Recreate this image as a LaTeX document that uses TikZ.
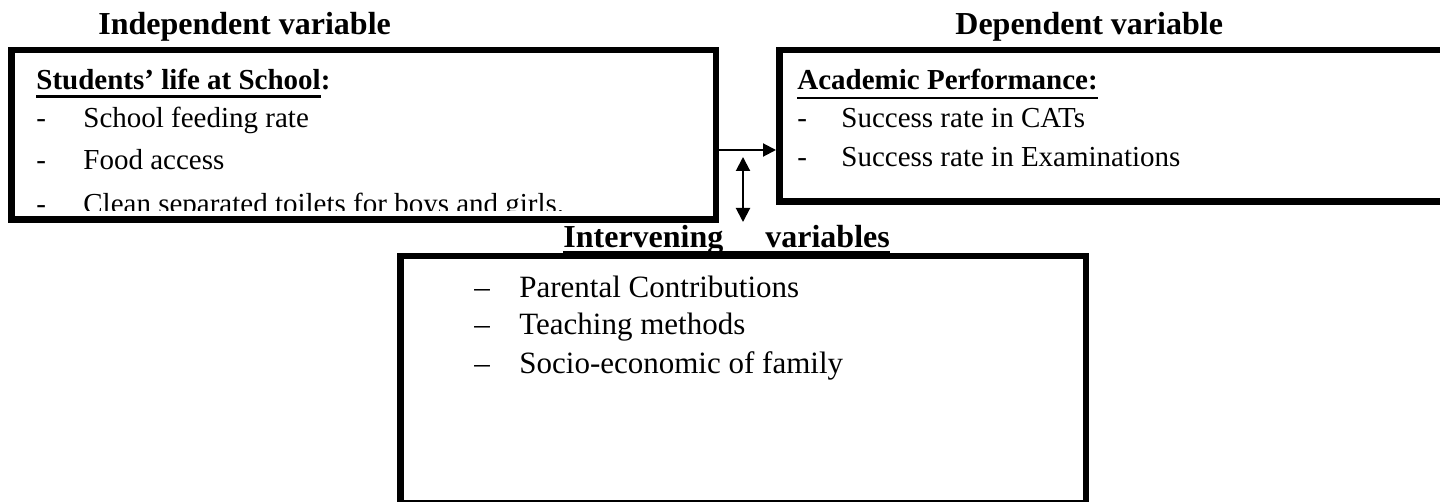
\documentclass[tikz,border=0pt]{standalone}
\usepackage{fontspec}
\setmainfont{Liberation Serif}
\usetikzlibrary{arrows.meta, positioning, calc}

% underline with a set depth
\newcommand{\undl}[2][3.8pt]{\setbox0\hbox{#2}\rlap{\rule[-#1]{\wd0}{1.1pt}}\box0}

\tikzset{
    varbox/.style={draw=black, line width=3.25pt, inner sep=0pt},
    head/.style={anchor=base west, inner sep=0pt, font=\bfseries\fontsize{16}{19}\selectfont},
    boxtitle/.style={anchor=base west, inner sep=0pt, font=\bfseries\fontsize{14.5}{17}\selectfont},
    item/.style={anchor=base west, inner sep=0pt, font=\fontsize{14.5}{17}\selectfont},
    bigitem/.style={anchor=base west, inner sep=0pt, font=\fontsize{15.5}{18}\selectfont},
    link/.style={line width=1pt, -{Triangle[length=6.5pt, width=6.5pt]}},
    twoway/.style={line width=1pt, {Triangle[length=7pt, width=7pt]}-{Triangle[length=7pt, width=7pt]}}
}

\begin{document}
\begin{tikzpicture}[x=0.5pt, y=-0.5pt]
    \useasboundingbox (0,0) rectangle (1440,502);

    % headings
    \node[head] (indeptitle) at (98,35) {Independent variable};
    \node[head] (deptitle) at (955,35) {Dependent variable};
    \node[head] (intervtitle) at (563,248) {\undl[2.6pt]{Intervening\hspace{21pt}variables}};

    % boxes
    \node[varbox, minimum width=352.25pt, minimum height=84.75pt] (indep) at (363.5,135) {};
    \node[varbox, minimum width=333.75pt, minimum height=75.75pt] (dep) at (1113,126) {};
    \node[varbox, minimum width=342.75pt, minimum height=123.25pt] (interv) at (743,379.5) {};

    % independent variable
    \node[boxtitle] (school) at (36,90) {\undl{Students’ life at School}:};
    \node[item] (sfeed) at (36,128) {\makebox[23.5pt][l]{-}School feeding rate};
    \node[item] (faccess) at (36,170) {\makebox[23.5pt][l]{-}Food access};
    \begin{scope}
        \clip (15,53) rectangle (712,211);
        \node[item] (toilets) at (36,214) {\makebox[23.5pt][l]{-}Clean separated toilets for boys and girls.};
    \end{scope}

    % dependent variable
    \node[boxtitle] (perf) at (797,90) {\undl[4.4pt]{Academic Performance:}};
    \node[item] (catrate) at (797,128) {\makebox[22pt][l]{-}Success rate in CATs};
    \node[item] (examrate) at (797,167) {\makebox[22pt][l]{-}Success rate in Examinations};

    % intervening variables
    \node[bigitem] (parental) at (474,298) {\makebox[22.5pt][l]{–}Parental Contributions};
    \node[bigitem] (teaching) at (474,335) {\makebox[22.5pt][l]{–}Teaching methods};
    \node[bigitem] (socio) at (474,373) {\makebox[22.5pt][l]{–}Socio-economic of family};

    % connectors
    \draw[link] ([yshift=-7.5pt]indep.east) -- ([yshift=-12pt]dep.west);
    \coordinate (dtop) at (743,157);
    \coordinate (dbot) at (743,222);
    \draw[twoway] (dtop) -- (dbot);
\end{tikzpicture}
\end{document}
